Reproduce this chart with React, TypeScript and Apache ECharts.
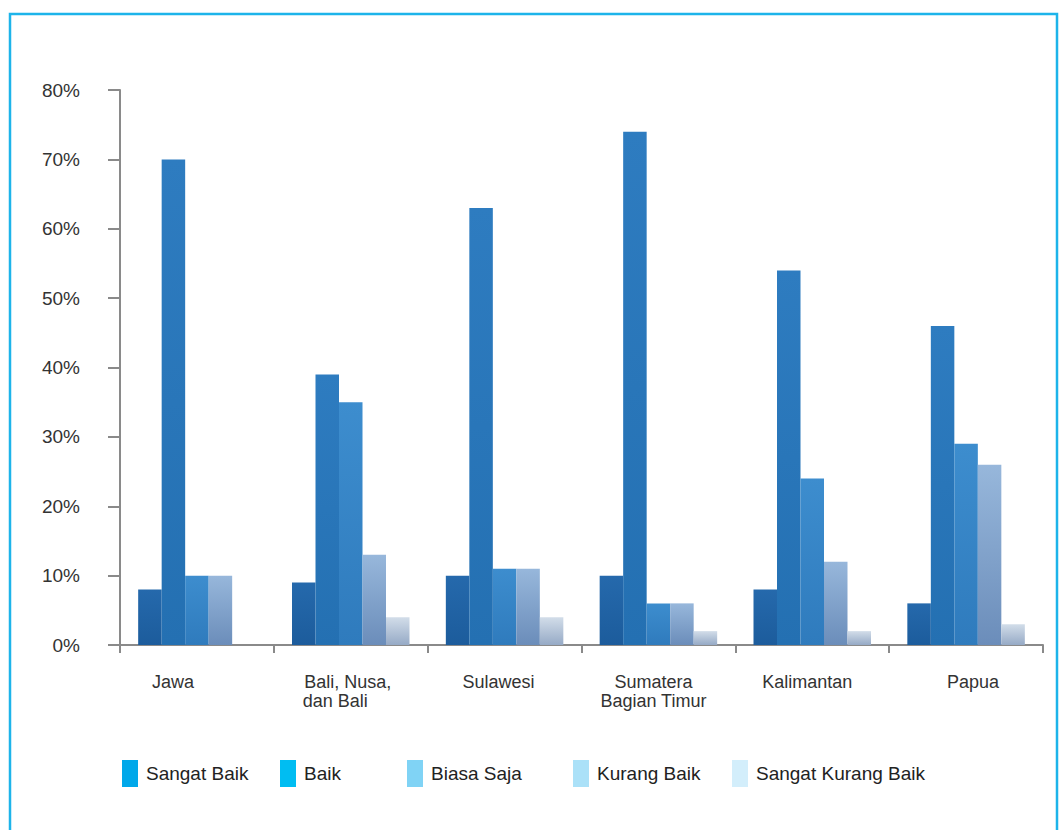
import React, { useEffect, useRef } from "react";
import * as echarts from "echarts";

const categories = ["Jawa", "Bali, Nusa,\ndan Bali", "Sulawesi", "Sumatera\nBagian Timur", "Kalimantan", "Papua"];
const seriesNames = ["Sangat Baik", "Baik", "Biasa Saja", "Kurang Baik", "Sangat Kurang Baik"];
const sangatBaik = [8, 9, 10, 10, 8, 6];
const baik = [70, 39, 63, 74, 54, 46];
const biasaSaja = [10, 35, 11, 6, 24, 29];
const kurangBaik = [10, 13, 11, 6, 12, 26];
const sangatKurangBaik = [0, 4, 4, 2, 2, 3];
const seriesValues = [sangatBaik, baik, biasaSaja, kurangBaik, sangatKurangBaik];

const barColors: [string, string][] = [
  ["#2569ac", "#1c5c9c"],
  ["#2e7cc0", "#2470b2"],
  ["#3d8dce", "#2f7bbd"],
  ["#97b7db", "#6b8dba"],
  ["#d2dde9", "#96aac6"],
];
const legendColors = ["#00a8ea", "#00bdf2", "#80d3f5", "#abe1f8", "#d3eefb"];
const legendLefts = [122, 280, 407, 573, 732];
// horizontal nudges of category labels (px, positive = right)
const labelShift = [-24, -3, -6, -5, -5, 7];

const FONT = "'Liberation Sans', Arial, sans-serif";

export default function App() {
  const ref = useRef<HTMLDivElement>(null);
  useEffect(() => {
    document.body.style.margin = "0";
    const chart = echarts.init(ref.current!, null, { renderer: "svg" });
    const catData = categories.map((c, i) => {
      const s = labelShift[i];
      const padding = s >= 0 ? [0, 0, 0, 2 * s] : [0, -2 * s, 0, 0];
      return { value: c, textStyle: { padding } };
    });
    const option: any = {
      animation: false,
      backgroundColor: "#ffffff",
      textStyle: { fontFamily: FONT },
      graphic: [
        {
          type: "rect",
          shape: { x: 10, y: 14, width: 1047, height: 840 },
          style: { fill: "none", stroke: "#1db4ea", lineWidth: 2.5 },
          silent: true,
        },
      ],
      grid: { left: 120, right: 20, top: 90, bottom: 185 },
      legend: seriesNames.map((name, i) => ({
        data: [{ name, itemStyle: { color: legendColors[i] } }],
        left: legendLefts[i],
        top: 760,
        padding: 0,
        itemWidth: 16,
        itemHeight: 27,
        itemGap: 8,
        icon: "rect",
        selectedMode: false,
        textStyle: { fontSize: 19, color: "#222", fontFamily: FONT, padding: [0, 0, 0, 3] },
      })),
      xAxis: {
        type: "category",
        data: catData,
        axisLine: { lineStyle: { color: "#8a8a8a", width: 2 } },
        axisTick: { show: true, length: 8, lineStyle: { color: "#8a8a8a", width: 2 } },
        axisLabel: {
          color: "#333",
          fontSize: 18,
          margin: 27,
          lineHeight: 19,
          fontFamily: FONT,
          align: "center",
          formatter: (v: string) => (v.startsWith("Bali") ? v.replace("dan Bali", "dan Bali     ") : v),
        },
      },
      yAxis: {
        type: "value",
        min: 0,
        max: 80,
        interval: 10,
        axisLine: { show: true, lineStyle: { color: "#8a8a8a", width: 2 } },
        axisTick: { show: true, length: 12, lineStyle: { color: "#8a8a8a", width: 2 } },
        splitLine: { show: false },
        axisLabel: { formatter: "{value}%", color: "#333", fontSize: 19, margin: 40, fontFamily: FONT },
      },
      series: seriesNames.map((name, i) => ({
        name,
        type: "bar",
        data: seriesValues[i],
        barWidth: 23.5,
        barGap: "0%",
        itemStyle: {
          color: new echarts.graphic.LinearGradient(0, 0, 0, 1, [
            { offset: 0, color: barColors[i][0] },
            { offset: 1, color: barColors[i][1] },
          ]),
        },
      })),
    };
    chart.setOption(option);
    return () => chart.dispose();
  }, []);
  return <div ref={ref} style={{ position: "absolute", left: 0, top: 0, width: 1063, height: 830 }} />;
}
